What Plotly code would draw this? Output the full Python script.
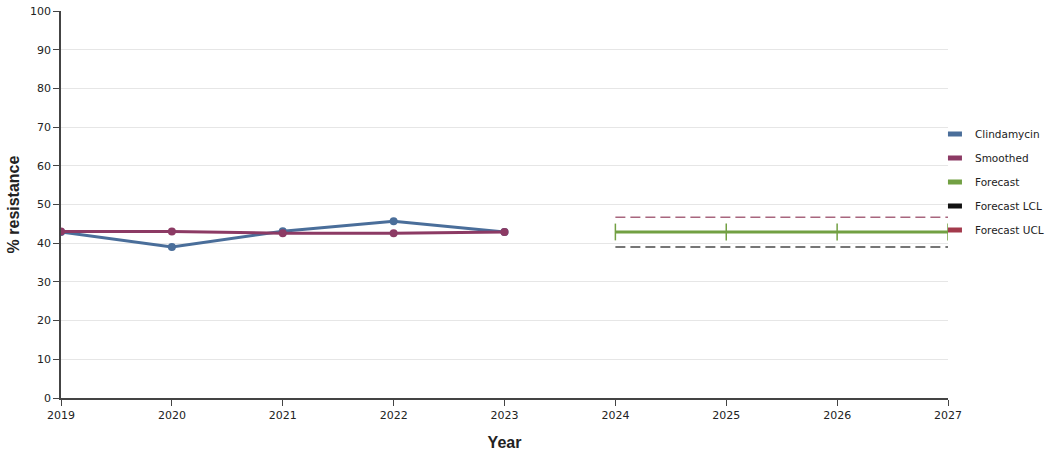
import plotly.graph_objects as go

years_obs = [2019, 2020, 2021, 2022, 2023]
clindamycin = [42.9, 39.0, 43.1, 45.7, 42.9]
smoothed = [43.0, 43.0, 42.6, 42.6, 42.9]
years_fc = [2024, 2025, 2026, 2027]
forecast = [42.9, 42.9, 42.9, 42.9]
forecast_lcl = [39.0, 39.0, 39.0, 39.0]
forecast_ucl = [46.7, 46.7, 46.7, 46.7]
x_ticks = [2019, 2020, 2021, 2022, 2023, 2024, 2025, 2026, 2027]
y_ticks = [0, 10, 20, 30, 40, 50, 60, 70, 80, 90, 100]

C_BLUE = "#4a6e9a"
C_PURP = "#8c3a64"
C_GREEN = "#72a043"
C_LCL = "#4a4a4a"
C_UCL = "#a8667e"
C_UCL_LEG = "#a33a4c"

fig = go.Figure()
fig.add_trace(go.Scatter(x=years_fc, y=forecast_ucl, mode="lines",
                         line=dict(color=C_UCL, width=1.5, dash="10px,5px"), showlegend=False))
fig.add_trace(go.Scatter(x=years_fc, y=forecast_lcl, mode="lines",
                         line=dict(color=C_LCL, width=1.5, dash="10px,5px"), showlegend=False))
fig.add_trace(go.Scatter(x=years_fc, y=forecast, mode="lines+markers",
                         line=dict(color=C_GREEN, width=3),
                         marker=dict(symbol="line-ns", size=12, line=dict(color=C_GREEN, width=1.5)),
                         showlegend=False))
fig.add_trace(go.Scatter(x=years_obs, y=clindamycin, mode="lines+markers",
                         line=dict(color=C_BLUE, width=3),
                         marker=dict(color=C_BLUE, size=8), showlegend=False))
fig.add_trace(go.Scatter(x=years_obs, y=smoothed, mode="lines+markers",
                         line=dict(color=C_PURP, width=3),
                         marker=dict(color=C_PURP, size=8), showlegend=False))

for name, col in [("Clindamycin", C_BLUE), ("Smoothed", C_PURP), ("Forecast", C_GREEN),
                  ("Forecast LCL", "#111111"), ("Forecast UCL", C_UCL_LEG)]:
    fig.add_trace(go.Scatter(x=[None], y=[None], mode="markers", name=name, legendgroup=name,
                             marker=dict(symbol="line-ew", size=10, color=col,
                                         line=dict(color=col, width=6))))

fig.update_layout(
    width=1049, height=451,
    margin=dict(l=61, r=101, t=11, b=53, autoexpand=False),
    plot_bgcolor="white", paper_bgcolor="white",
    font=dict(family="DejaVu Sans, Verdana, sans-serif", size=11, color="#222"),
    legend=dict(x=0.9853, xanchor="left", y=0.558, yanchor="middle",
                font=dict(size=10.5, color="#222"), tracegroupgap=5,
                itemwidth=30, bgcolor="rgba(0,0,0,0)"),
    xaxis=dict(range=[2019, 2027], tickvals=x_ticks, ticktext=[str(v) for v in x_ticks],
               showgrid=False, zeroline=False, showline=True, linecolor="#444", linewidth=1.5,
               ticks="outside", ticklen=6, tickcolor="#444", automargin=False,
               title=dict(text="<b>Year</b>", font=dict(family="Liberation Sans, Arial, sans-serif", size=16, color="#222"), standoff=16)),
    yaxis=dict(range=[0, 100], tickvals=y_ticks, showgrid=True, gridcolor="#e6e6e6",
               zeroline=False, showline=True, linecolor="#444", linewidth=1.5,
               ticks="outside", ticklen=6, tickcolor="#444", automargin=False,
               ticklabeloverflow="allow",
               title=dict(text="<b>% resistance</b>", font=dict(family="Liberation Sans, Arial, sans-serif", size=16, color="#222"), standoff=6)),
)
fig.write_html("out.html", config={"displayModeBar": False},
               post_script="document.body.style.margin='0';document.body.style.padding='0';")
